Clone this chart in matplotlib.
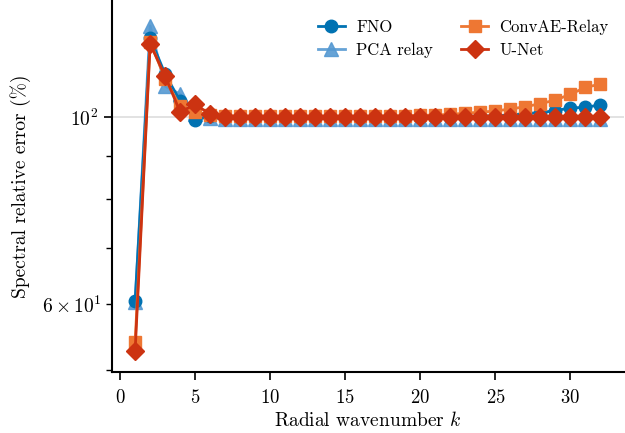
import matplotlib
matplotlib.use("Agg")
import matplotlib.pyplot as plt
import numpy as np

# ======================
# Data
# ======================
k = np.arange(1, 33)

fno = [60.5, 124.2, 112.5, 104.5, 99.3, 100.2, 100.0, 100.0, 100.0, 100.0,
       100.0, 100.0, 100.0, 100.0, 100.0, 100.0, 100.0, 100.0, 100.0, 100.0,
       100.1, 100.1, 100.2, 100.3, 100.4, 100.6, 101.0, 101.3, 101.8, 102.6,
       102.7, 103.5]
pca_relay = [60.3, 128.4, 108.9, 106.5, 100.8, 99.7, 99.6, 99.6, 99.6, 99.6,
             99.6, 99.6, 99.6, 99.6, 99.6, 99.6, 99.6, 99.6, 99.6, 99.6,
             99.6, 99.6, 99.6, 99.6, 99.6, 99.6, 99.6, 99.6, 99.6, 99.6,
             99.6, 99.6]
convae_relay = [54.0, 123.0, 111.0, 103.0, 101.5, 100.6, 100.4, 100.3, 100.3, 100.3,
                100.3, 100.3, 100.3, 100.3, 100.3, 100.3, 100.3, 100.4, 100.4, 100.5,
                100.6, 100.8, 101.1, 101.4, 101.7, 102.3, 102.9, 103.8, 104.8, 106.5,
                108.5, 109.5]
unet = [52.8, 122.2, 111.9, 101.4, 103.6, 100.8, 100.0, 100.0, 100.0, 100.0,
        100.0, 100.0, 100.0, 100.0, 100.0, 100.0, 100.0, 100.0, 100.0, 100.0,
        100.0, 100.0, 100.0, 100.0, 100.0, 100.0, 100.0, 100.0, 100.0, 100.0,
        100.0, 100.0]

# ======================
# Style (Computer Modern look)
# ======================
plt.rcParams["font.family"] = ["cmr10", "DejaVu Serif"]
plt.rcParams["mathtext.fontset"] = "cm"
plt.rcParams["axes.formatter.use_mathtext"] = True
plt.rcParams["axes.unicode_minus"] = False

fig = plt.figure(figsize=(6.25, 4.33), dpi=100)
ax = fig.add_axes([0.179, 0.141, 0.819, 0.857])

ax.plot(k, fno, color="#0072B2", marker="o", ms=9, lw=2, label="FNO", zorder=3)
ax.plot(k, pca_relay, color="#5599D2", marker="^", ms=10, lw=2, label="PCA relay",
        alpha=0.9, zorder=2)
ax.plot(k, convae_relay, color="#EE7733", marker="s", ms=8.5, lw=2, label="ConvAE-Relay",
        zorder=3)
ax.plot(k, unet, color="#CC3311", marker="D", ms=9, lw=2, label="U-Net", zorder=4)

ax.set_yscale("log")
ax.set_ylim(49.8, 137.5)
ax.set_xlim(-0.55, 33.55)
ax.set_xticks([0, 5, 10, 15, 20, 25, 30])

ax.grid(True, axis="y", which="major", color="#dddddd", lw=1.2, zorder=0)
ax.set_axisbelow(True)

ax.spines["top"].set_visible(False)
ax.spines["right"].set_visible(False)
ax.spines["left"].set_linewidth(1.5)
ax.spines["bottom"].set_linewidth(1.5)
ax.tick_params(which="major", length=6, width=1.2)
ax.tick_params(axis="x", labelsize=13.5, pad=6)
ax.tick_params(axis="y", which="both", labelsize=14)
ax.tick_params(which="minor", length=4, width=1.0)

ax.set_xlabel("Radial wavenumber $k$", fontsize=14, labelpad=3)
ax.set_ylabel("Spectral relative error (%)", fontsize=14, labelpad=8)

ax.legend(ncol=2, frameon=False, fontsize=12, loc="upper right",
          bbox_to_anchor=(1.0, 0.99), columnspacing=1.7, handlelength=1.6,
          handletextpad=0.7, labelspacing=0.45)

fig.savefig("out.png", dpi=100)
